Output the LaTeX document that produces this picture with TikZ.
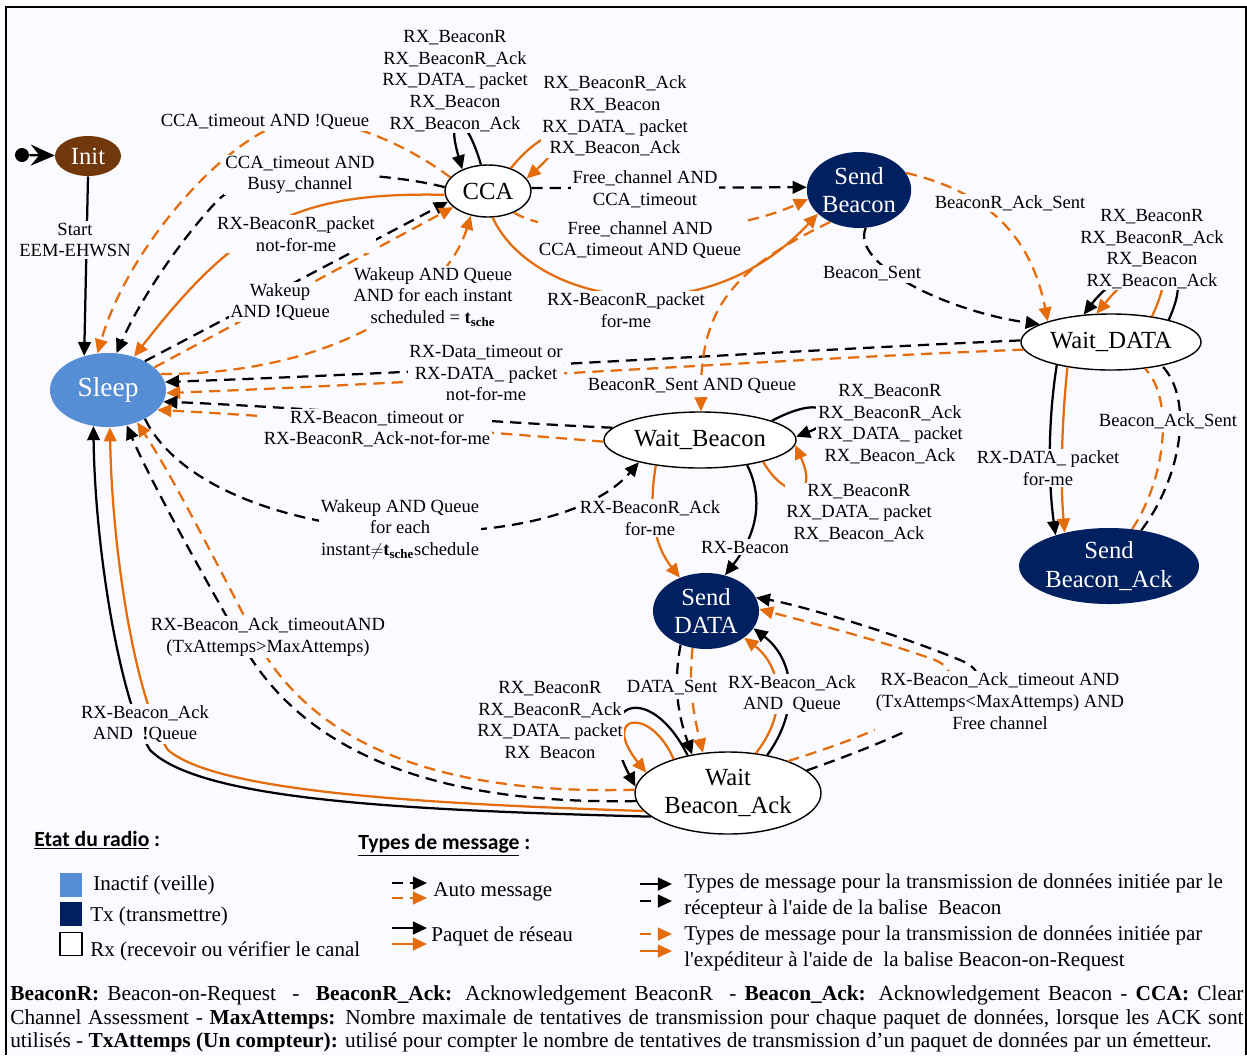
\documentclass[tikz,border=0pt]{standalone}
\usepackage{fontspec}
\setmainfont{Liberation Serif}
\newfontfamily\hdfont{Carlito}
\usetikzlibrary{shapes.geometric, arrows.meta}
\definecolor{bg}{RGB}{250,250,255}
\definecolor{orng}{RGB}{228,108,10}
\definecolor{navy}{RGB}{0,32,96}
\definecolor{sky}{RGB}{85,142,213}
\definecolor{brwn}{RGB}{112,56,12}
\newcommand\lblf{\fontsize{13.2}{15.4}\selectfont}
\newcommand\stf{\fontsize{17.5}{20}\selectfont}
\newcommand\legf{\fontsize{15}{18.5}\selectfont}
\newcommand\hdf{\hdfont\bfseries\fontsize{15.4}{18}\selectfont}

\begin{document}
\begin{tikzpicture}[x=0.025cm, y=-0.025cm,
  st/.style={ellipse, inner sep=0pt, align=center, font=\stf},
  rx/.style={st, draw=black, line width=1pt, fill=white},
  tx/.style={st, fill=navy, text=white},
  lbl/.style={fill=bg, inner sep=1pt, align=center, font=\lblf},
  legt/.style={anchor=west, inner sep=0pt, align=left, font=\legf},
  key/.style={minimum width=0.55cm, minimum height=0.58cm, inner sep=0pt},
  bs/.style={line width=1.6pt, -{Triangle[length=10pt,width=9pt]}},
  os/.style={bs, color=orng},
  bd/.style={bs, dash pattern=on 8pt off 5pt},
  od/.style={bd, color=orng}]
\useasboundingbox (0,0) rectangle (1247,1055);
\fill[white] (0,0) rectangle (1247,1055);
\fill[bg] (6,7) rectangle (1246,1055);
\draw[line width=0.8pt] (6,1055) -- (6,7) -- (1246,7) -- (1246,1055);

\node[circle, fill, inner sep=0pt, minimum size=0.35cm] (start) at (22,155) {};
\node[st, fill=brwn, text=white, minimum width=1.65cm, minimum height=1cm] (Init) at (88,156) {Init};
\node[st, fill=sky, text=white, minimum width=2.9cm, minimum height=1.85cm, font=\fontsize{19.5}{22}\selectfont] (Sleep) at (108,390) {Sleep};
\node[rx, minimum width=2.15cm, minimum height=1.3cm] (CCA) at (488,191) {CCA};
\node[tx, minimum width=2.6cm, minimum height=1.9cm] (SendBcn) at (859,190) {Send\\Beacon};
\node[rx, minimum width=4.5cm, minimum height=1.4cm] (WaitData) at (1111,342) {Wait\_DATA};
\node[rx, minimum width=4.8cm, minimum height=1.4cm] (WaitBcn) at (700,440) {Wait\_Beacon};
\node[tx, minimum width=4.5cm, minimum height=1.9cm] (SendAck) at (1109,566) {Send\\Beacon\_Ack};
\node[tx, minimum width=2.65cm, minimum height=1.9cm] (SendData) at (706,611) {Send\\DATA};
\node[rx, minimum width=4.65cm, minimum height=2.05cm] (WaitAck) at (728,793) {Wait\\Beacon\_Ack};

\draw[line width=1.6pt, -{Stealth[length=17pt,width=15pt,inset=6pt]}] (start) -- (Init);
\draw[bs] (Init.south) -- (Sleep.125);

\draw[od] (CCA.160) .. controls (400,140) and (340,118) .. (300,120) .. controls (240,122) and (130,240) .. (Sleep.106);
\draw[bd] (CCA.175) .. controls (400,175) and (260,160) .. (218,200) .. controls (180,240) and (140,300) .. (Sleep.77);
\draw[os] (CCA.185) .. controls (300,192) and (240,220) .. (Sleep.52);
\draw[bd] (Sleep.38) -- (CCA.195);
\draw[od] (Sleep.26) -- (CCA.205);
\draw[od] (Sleep.17) .. controls (330,375) and (445,300) .. (CCA.235);
\draw[bd] (WaitData.179) .. controls (800,350) and (450,372) .. (Sleep.8);
\draw[od] (WaitData.185) .. controls (800,358) and (450,382) .. (Sleep.-3);
\draw[bd] (WaitBcn.172) .. controls (500,423) and (260,405) .. (Sleep.-12);
\draw[od] (WaitBcn.181) .. controls (500,433) and (260,415) .. (Sleep.-22);
\draw[bd] (Sleep.-38) .. controls (210,550) and (550,565) .. (WaitBcn.200);
\draw[bd] (WaitAck.185) .. controls (430,805) and (300,750) .. (240,640) .. controls (200,570) and (150,480) .. (Sleep.-62);
\draw[od] (WaitAck.178) .. controls (440,795) and (320,745) .. (262,650) .. controls (225,580) and (175,480) .. (Sleep.-48);
\draw[bs] (WaitAck.197) .. controls (400,810) and (200,800) .. (150,750) .. controls (120,700) and (95,550) .. (Sleep.-112);
\draw[os] (WaitAck.192) .. controls (400,803) and (215,790) .. (168,750) .. controls (135,700) and (112,550) .. (Sleep.-87);

\draw[bs] (CCA.105) .. controls (465,110) and (445,110) .. (CCA.140);
\draw[os] (CCA.45) .. controls (550,120) and (580,130) .. (CCA.18);
\draw[bd] (CCA.4) -- (SendBcn.177);
\draw[od] (CCA.-40) .. controls (560,240) and (720,240) .. (SendBcn.190);
\draw[os] (CCA.-80) .. controls (530,300) and (700,340) .. (SendBcn.210);

\draw[od] (SendBcn.228) .. controls (730,270) and (700,310) .. (WaitBcn.88);
\draw[od] (SendBcn.20) .. controls (980,190) and (1030,230) .. (WaitData.162);
\draw[bd] (SendBcn.-80) .. controls (850,265) and (950,312) .. (WaitData.166);

\draw[bs] (WaitData.21) .. controls (1205,240) and (1125,260) .. (WaitData.135);
\draw[os] (WaitData.32) .. controls (1185,245) and (1140,260) .. (WaitData.117);
\draw[bs] (WaitData.-157) .. controls (1048,420) and (1048,480) .. (SendAck.150);
\draw[os] (WaitData.-150) .. controls (1062,420) and (1060,480) .. (SendAck.143);
\draw[od, -] (SendAck.58) .. controls (1165,480) and (1175,400) .. (WaitData.-38);
\draw[bd, -] (SendAck.48) .. controls (1180,480) and (1195,400) .. (WaitData.-25);

\draw[bs] (WaitBcn.15) .. controls (830,390) and (840,420) .. (WaitBcn.2);
\draw[os] (WaitBcn.-19) .. controls (785,500) and (820,500) .. (WaitBcn.-3);
\draw[os] (WaitBcn.-150) .. controls (650,500) and (650,540) .. (SendData.128);
\draw[bs] (WaitBcn.-28) .. controls (762,495) and (760,530) .. (SendData.62);

\draw[bd] (SendData.-127) .. controls (672,690) and (680,720) .. (WaitAck.133);
\draw[od] (SendData.-110) .. controls (688,690) and (695,720) .. (WaitAck.122);
\draw[bs] (WaitAck.44) .. controls (800,710) and (795,660) .. (SendData.-20);
\draw[os] (WaitAck.55) .. controls (790,710) and (780,665) .. (SendData.-35);
\draw[bd] (WaitAck.16) .. controls (950,720) and (1010,680) .. (960,660) .. controls (900,635) and (800,605) .. (SendData.15);
\draw[od] (WaitAck.28) .. controls (920,720) and (980,680) .. (935,660) .. controls (880,640) and (800,620) .. (SendData.2);
\draw[bs] (WaitAck.137) .. controls (650,680) and (590,700) .. (WaitAck.176);
\draw[os] (WaitAck.148) .. controls (650,705) and (600,715) .. (WaitAck.166);

\node[lbl] (L1) at (75,240) {Start\\EEM-EHWSN};
\node[lbl] (L2) at (265,122) {CCA\_timeout AND !Queue};
\node[lbl] (L3) at (300,175) {CCA\_timeout AND\\Busy\_channel};
\node[lbl] (L4) at (296,234) {RX-BeaconR\_packet\\not-for-me};
\node[lbl] (L5) at (280,302) {Wakeup\\AND \textbf{!}Queue};
\node[lbl] (L6) at (433,297) {Wakeup AND Queue\\AND for each instant\\scheduled = \textbf{t}\textsubscript{\textbf{sche}}};
\node[lbl] (L7) at (455,81) {RX\_BeaconR\\RX\_BeaconR\_Ack\\RX\_DATA\_ packet\\RX\_Beacon\\RX\_Beacon\_Ack};
\node[lbl] (L8) at (615,116) {RX\_BeaconR\_Ack\\RX\_Beacon\\RX\_DATA\_ packet\\RX\_Beacon\_Ack};
\node[lbl] (L9) at (645,189) {Free\_channel AND\\CCA\_timeout};
\node[lbl] (L10) at (640,240) {Free\_channel AND\\CCA\_timeout AND Queue};
\node[lbl] (L11) at (626,310) {RX-BeaconR\_packet\\for-me};
\node[lbl] (L12) at (1010,203) {BeaconR\_Ack\_Sent};
\node[lbl] (L13) at (872,274) {Beacon\_Sent};
\node[lbl] (L14) at (1152,249) {RX\_BeaconR\\RX\_BeaconR\_Ack\\RX\_Beacon\\RX\_Beacon\_Ack};
\node[lbl] (L15) at (486,373) {RX-Data\_timeout or\\RX-DATA\_ packet\\not-for-me};
\node[lbl] (L16) at (692,386) {BeaconR\_Sent AND Queue};
\node[lbl] (L17) at (377,429) {RX-Beacon\_timeout or\\RX-BeaconR\_Ack-not-for-me};
\node[lbl] (L18) at (890,424) {RX\_BeaconR\\RX\_BeaconR\_Ack\\RX\_DATA\_ packet\\RX\_Beacon\_Ack};
\node[lbl] (L19) at (1168,421) {Beacon\_Ack\_Sent};
\node[lbl] (L20) at (1048,468) {RX-DATA\_ packet\\for-me};
\node[lbl] (L21) at (400,529) {Wakeup AND Queue\\for each\\instant$\neq$\textbf{t}\textsubscript{\textbf{sche}}schedule};
\node[lbl] (L22) at (650,518) {RX-BeaconR\_Ack\\for-me};
\node[lbl] (L23) at (859,513) {RX\_BeaconR\\RX\_DATA\_ packet\\RX\_Beacon\_Ack};
\node[lbl] (L24) at (745,547) {RX-Beacon};
\node[lbl] (L25) at (268,637) {RX-Beacon\_Ack\_timeoutAND\\(TxAttemps>MaxAttemps)};
\node[lbl] (L26) at (145,724) {RX-Beacon\_Ack\\AND\ \ \textbf{!}Queue};
\node[lbl] (L27) at (550,720) {RX\_BeaconR\\RX\_BeaconR\_Ack\\RX\_DATA\_ packet\\RX\ \ Beacon};
\node[lbl] (L28) at (672,688) {DATA\_Sent};
\node[lbl] (L29) at (792,694) {RX-Beacon\_Ack\\AND\ \ Queue};
\node[lbl] (L30) at (1000,701) {RX-Beacon\_Ack\_timeout AND\\(TxAttemps<MaxAttemps) AND\\Free channel};

\node[anchor=west, inner sep=0pt, font=\hdf] (H1) at (34,840) {\underline{Etat du radio} :};
\node[anchor=west, inner sep=0pt, font=\hdf] (H2) at (358,845) {\underline{Types de message} :};
\node[key, fill=sky] (K1) at (71,885) {};
\node[key, fill=navy] (K2) at (71,914) {};
\node[key, draw, fill=white, line width=0.8pt] (K3) at (71,944) {};
\node[legt] (T1) at (93,885) {Inactif (veille)};
\node[legt] (T2) at (90,916) {Tx (transmettre)};
\node[legt] (T3) at (90,951) {Rx (recevoir ou vérifier le canal};
\draw[bd] (392,883) -- (427,883);
\draw[od] (392,898) -- (427,898);
\draw[bs] (392,928) -- (427,928);
\draw[os] (392,944) -- (427,944);
\node[legt] (T4) at (433,892) {Auto message};
\node[legt] (T5) at (431,936) {Paquet de réseau};
\draw[bs] (640,884) -- (672,884);
\draw[bd] (640,901) -- (672,901);
\draw[od] (640,934) -- (672,934);
\draw[os] (640,951) -- (672,951);
\node[legt] (T6) at (684,896) {Types de message pour la transmission de données initiée par le\\récepteur à l\textquotesingle aide de la balise\ \ Beacon};
\node[legt] (T7) at (684,948) {Types de message pour la transmission de données initiée par\\l\textquotesingle expéditeur à l\textquotesingle aide de\ \ la balise Beacon-on-Request};

\node[anchor=north west, inner sep=0pt, text width=30.825cm, align=justify, font=\fontsize{15.2}{17}\selectfont] (N) at (10,985) {\textbf{BeaconR:} Beacon-on-Request\ \ -\ \ \textbf{BeaconR\_Ack:} Acknowledgement BeaconR\ \ - \textbf{Beacon\_Ack:} Acknowledgement Beacon - \textbf{CCA:} Clear\linebreak Channel Assessment - \textbf{MaxAttemps:} Nombre maximale de tentatives de transmission pour chaque paquet de données, lorsque les ACK sont\linebreak utilisés - \textbf{TxAttemps (Un compteur):} utilisé pour compter le nombre de tentatives de transmission d’un paquet de données par un émetteur.};
\end{tikzpicture}
\end{document}
